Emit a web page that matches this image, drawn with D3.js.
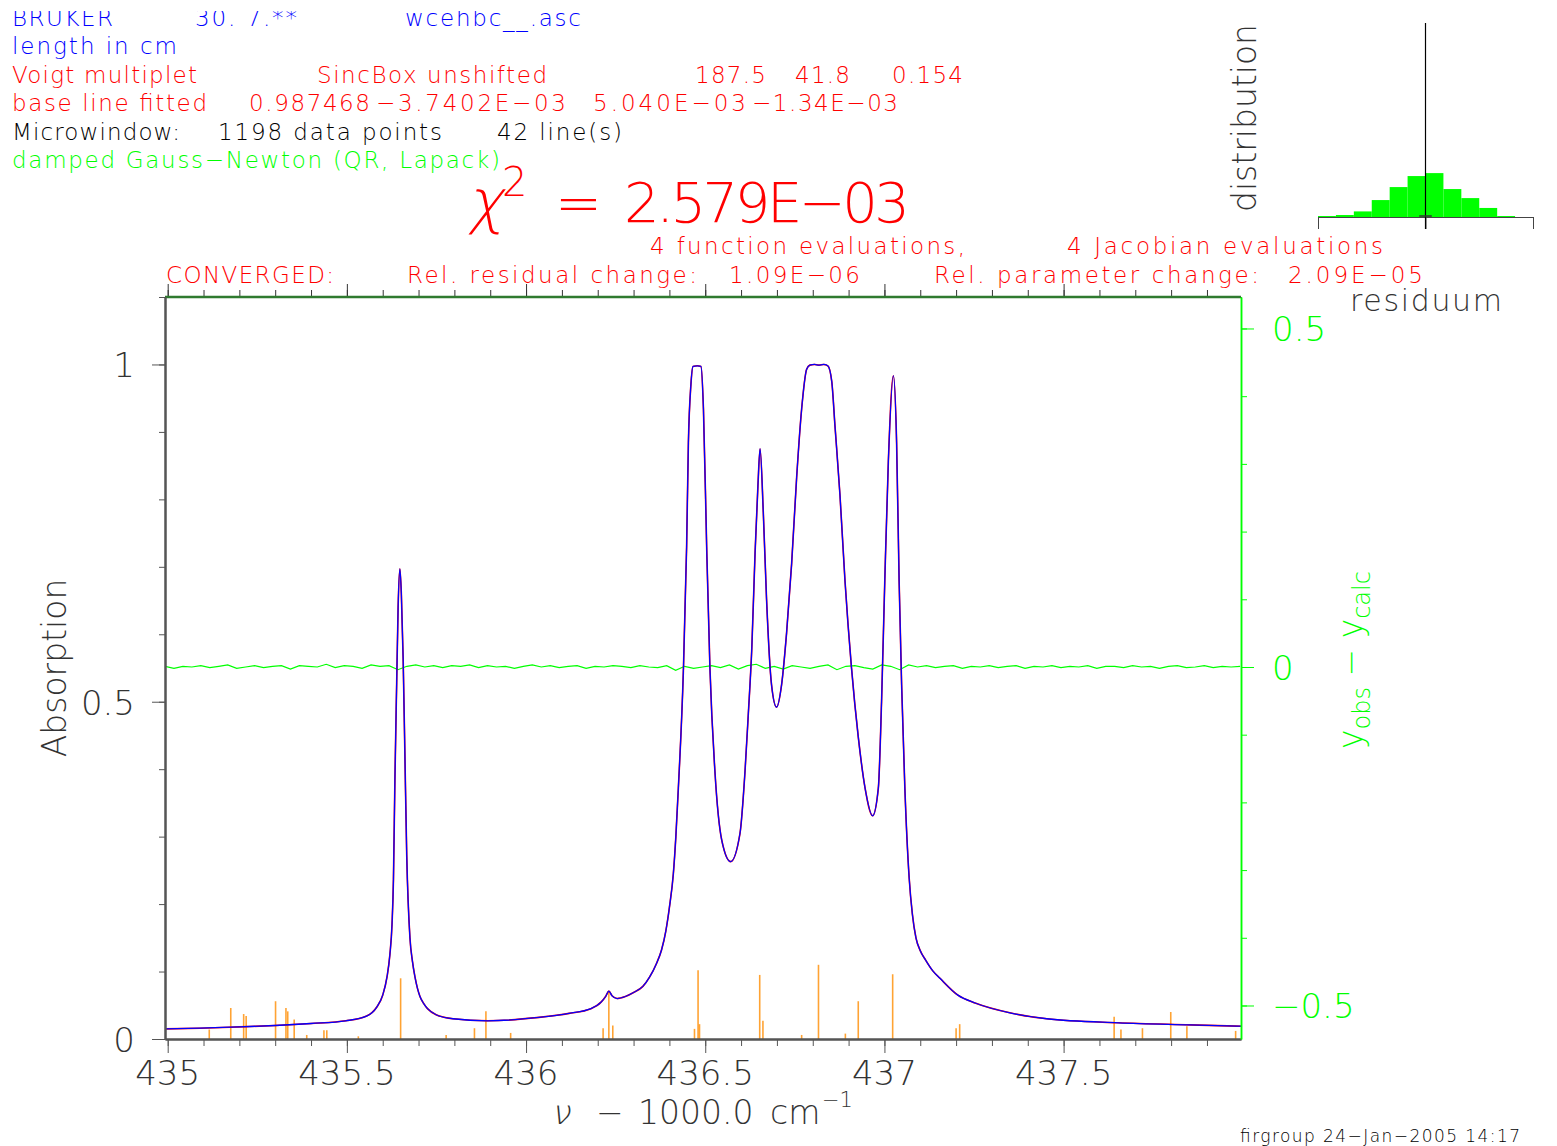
<!DOCTYPE html>
<html>
<head>
<meta charset="utf-8">
<script src="https://cdn.jsdelivr.net/npm/d3@7"></script>
<style>
  body { margin: 0; background: #fff; }
  svg { display: block; }
  text { font-family: 'DejaVu Sans', sans-serif; font-weight: 200; }
</style>
</head>
<body>
<svg id="chart" width="1557" height="1146"></svg>
<script>
/* global d3 */

// calculated spectrum (wavenumber - 1000 cm-1, absorption)
var nuCalc = [434.9925, 435.09, 435.2, 435.3, 435.4, 435.497, 435.555, 435.583, 435.600, 435.612,
  435.620, 435.626, 435.630, 435.634, 435.639, 435.643, 435.648, 435.652, 435.657, 435.662,
  435.667, 435.676, 435.683, 435.690, 435.697, 435.704, 435.715, 435.725, 435.749, 435.796,
  435.893, 436.036, 436.12, 436.181, 436.21, 436.222, 436.231, 436.24, 436.254, 436.277,
  436.30, 436.326, 436.345, 436.364, 436.378, 436.390, 436.400, 436.411, 436.418, 436.425,
  436.439, 436.448, 436.453, 436.460, 436.466, 436.478, 436.488, 436.495, 436.504, 436.513,
  436.527, 436.546, 436.571, 436.597, 436.611, 436.620, 436.630, 436.639, 436.647, 436.653,
  436.662, 436.671, 436.685, 436.699, 436.713, 436.727, 436.741, 436.755, 436.769, 436.783,
  436.792, 436.805, 436.817, 436.830, 436.842, 436.853, 436.862, 436.876, 436.890, 436.908,
  436.927, 436.946, 436.967, 436.983, 436.992, 437.001, 437.011, 437.025, 437.034, 437.041,
  437.048, 437.057, 437.069, 437.078, 437.088, 437.100, 437.115, 437.135, 437.155, 437.205,
  437.255, 437.353, 437.453, 437.653, 437.852, 437.995]
var absCalc = [0.015, 0.016, 0.018, 0.020, 0.023, 0.027, 0.034, 0.047, 0.065, 0.092,
  0.125, 0.170, 0.237, 0.383, 0.528, 0.640, 0.697, 0.660, 0.565, 0.419,
  0.273, 0.150, 0.115, 0.092, 0.075, 0.063, 0.052, 0.045, 0.036, 0.030,
  0.027, 0.032, 0.038, 0.045, 0.055, 0.063, 0.071, 0.064, 0.060, 0.063,
  0.069, 0.078, 0.092, 0.112, 0.132, 0.160, 0.195, 0.245, 0.300, 0.372,
  0.546, 0.729, 0.884, 0.970, 0.997, 0.998, 0.997, 0.934, 0.729, 0.551,
  0.397, 0.295, 0.263, 0.305, 0.397, 0.480, 0.580, 0.720, 0.820, 0.875,
  0.781, 0.653, 0.525, 0.492, 0.525, 0.602, 0.704, 0.832, 0.934, 0.993,
  0.999, 1.000, 0.999, 1.000, 0.998, 0.975, 0.909, 0.806, 0.679, 0.551,
  0.448, 0.372, 0.331, 0.372, 0.500, 0.679, 0.857, 0.983, 0.884, 0.679,
  0.525, 0.372, 0.239, 0.185, 0.150, 0.131, 0.117, 0.101, 0.090, 0.065,
  0.053, 0.0385, 0.030, 0.024, 0.021, 0.019]

// residuals y_obs - y_calc on a regular grid
var residStart = 434.9925
var residStep = 0.025
var residuals = [
  0.001, -0.002, 0.001, 0.000, 0.002, -0.001, 0.001, 0.003, -0.002, 0.000,
  0.002, -0.001, 0.001, 0.002, -0.003, 0.002, 0.001, 0.000, 0.004, -0.001,
  0.002, 0.001, -0.002, 0.003, 0.001, 0.002, -0.004, 0.001, 0.003, 0.000,
  0.002, -0.001, 0.002, 0.001, 0.003, -0.001, 0.002, 0.000, 0.001, -0.002,
  0.001, 0.003, 0.000, 0.002, -0.001, 0.001, 0.002, -0.002, 0.001, 0.000,
  0.002, 0.001, -0.001, 0.002, 0.000, -0.001, 0.002, -0.005, 0.001, -0.002,
  0.000, 0.002, -0.001, 0.003, -0.003, 0.002, 0.004, -0.002, 0.001, -0.003,
  0.002, 0.000, -0.002, 0.001, 0.003, -0.004, 0.001, 0.002, -0.001, -0.003,
  0.003, 0.001, -0.004, 0.003, 0.000, 0.002, -0.001, 0.001, 0.002, -0.002,
  0.001, 0.000, 0.002, -0.001, 0.001, 0.002, -0.002, 0.001, 0.000, 0.002,
  -0.001, 0.001, 0.000, 0.002, -0.002, 0.001, 0.001, -0.001, 0.002, 0.000,
  0.001, -0.002, 0.001, 0.002, -0.001, 0.000, 0.002, -0.001, 0.001, 0.000,
  0.001]

// line positions and scaled strengths (orange sticks)
var linePos = [435.116, 435.176, 435.212, 435.219, 435.301, 435.330, 435.335, 435.353, 435.388, 435.436,
  435.444, 435.532, 435.650, 435.777, 435.856, 435.888, 435.957, 436.215, 436.231, 436.242,
  436.470, 436.480, 436.484, 436.652, 436.661, 436.769, 436.816, 436.891, 436.927, 437.023,
  437.200, 437.210, 437.641, 437.660, 437.720, 437.799, 437.844, 437.980]
var lineStrength = [0.014, 0.046, 0.037, 0.034, 0.056, 0.046, 0.041, 0.029, 0.006, 0.013,
  0.013, 0.004, 0.090, 0.006, 0.016, 0.041, 0.009, 0.016, 0.071, 0.020,
  0.015, 0.102, 0.022, 0.095, 0.027, 0.006, 0.110, 0.008, 0.056, 0.096,
  0.016, 0.022, 0.033, 0.014, 0.016, 0.040, 0.019, 0.012]

// residual distribution (histogram)
var histEdges = [-0.012, -0.010, -0.008, -0.006, -0.004, -0.002, 0, 0.002, 0.004, 0.006, 0.008, 0.010, 0.012]
var histCounts = [6, 12, 34, 103, 182, 249, 267, 170, 115, 55, 6, 0]

var xTicksMajor = [435, 435.5, 436, 436.5, 437, 437.5]
var yTicksMajor = [0, 0.5, 1]
var resTicksMajor = [-0.5, 0, 0.5]

/*
    --------------------------------------
    Setup
*/
var svg = d3.select('#chart')
var plot = {left: 165, right: 1241, top: 297, bottom: 1039}
var axisGray = '#555'

var x = d3.scaleLinear().domain([434.9925, 437.995]).range([plot.left, plot.right])
var y = d3.scaleLinear().domain([0, 1.1]).range([plot.bottom, plot.top])
var yRes = d3.scaleLinear().domain([-0.5495, 0.5465]).range([plot.bottom, plot.top])

function label (g, o) {
  var t = g.append('text')
    .attr('x', o.x)
    .attr('y', o.y)
    .attr('fill', o.color || '#000')
    .style('font-size', o.size + 'px')
    .text(o.text)
  if (o.len) t.attr('textLength', o.len).attr('lengthAdjust', 'spacing')
  if (o.anchor) t.attr('text-anchor', o.anchor)
  return t
}

/*
    --------------------------------------
    Header texts
*/
// the first header row is cut at the top in the original plot
svg.append('clipPath').attr('id', 'clipHead')
  .append('rect').attr('x', 0).attr('y', 11).attr('width', 1557).attr('height', 1135)

var head = svg.append('g').classed('header', true)
var headTop = head.append('g').attr('clip-path', 'url(#clipHead)')
var headLines = [
  {x: 12, y: 54, text: 'length in cm', len: 165, color: '#0000ff'},
  {x: 12, y: 83, text: 'Voigt multiplet', len: 185, color: '#ff0000'},
  {x: 317, y: 83, text: 'SincBox unshifted', len: 230, color: '#ff0000'},
  {x: 695, y: 83, text: '187.5', len: 71, color: '#ff0000'},
  {x: 795, y: 83, text: '41.8', len: 55, color: '#ff0000'},
  {x: 892, y: 83, text: '0.154', len: 71, color: '#ff0000'},
  {x: 12, y: 111, text: 'base line fitted', len: 195, color: '#ff0000'},
  {x: 249, y: 111, text: '0.987468', len: 121, color: '#ff0000'},
  {x: 376, y: 111, text: '\u22123.7402E\u221203', len: 190, color: '#ff0000'},
  {x: 593, y: 111, text: '5.040E\u221203', len: 153, color: '#ff0000'},
  {x: 752, y: 111, text: '\u22121.34E\u221203', len: 146, color: '#ff0000'},
  {x: 12, y: 140, text: 'Microwindow:', len: 168, color: '#000'},
  {x: 218, y: 140, text: '1198 data points', len: 224, color: '#000'},
  {x: 497, y: 140, text: '42 line(s)', len: 125, color: '#000'},
  {x: 12, y: 168, text: 'damped Gauss\u2212Newton (QR, Lapack)', len: 488, color: '#00ff00'},
  {x: 650, y: 254, text: '4 function evaluations,', len: 315, color: '#ff0000'},
  {x: 1067, y: 254, text: '4 Jacobian evaluations', len: 316, color: '#ff0000'},
  {x: 166, y: 283, text: 'CONVERGED:', len: 168, color: '#ff0000'},
  {x: 407, y: 283, text: 'Rel. residual change:', len: 290, color: '#ff0000'},
  {x: 729, y: 283, text: '1.09E\u221206', len: 131, color: '#ff0000'},
  {x: 934, y: 283, text: 'Rel. parameter change:', len: 325, color: '#ff0000'},
  {x: 1288, y: 283, text: '2.09E\u221205', len: 135, color: '#ff0000'}
]
headLines.forEach(d => label(head, Object.assign({size: 23}, d)))
label(headTop, {x: 12, y: 26, text: 'BRUKER', len: 101, size: 23, color: '#0000ff'})
label(headTop, {x: 195, y: 26, text: '30. 7.**', len: 102, size: 23, color: '#0000ff'})
label(headTop, {x: 405, y: 26, text: 'wcehbc__.asc', len: 176, size: 23, color: '#0000ff'})

// chi^2 title
label(head, {x: 0, y: 0, text: '\u03c7', size: 60, color: '#ff0000'})
  .attr('transform', 'translate(468,222) skewX(-12)')
label(head, {x: 502, y: 196, text: '2', size: 40, color: '#ff0000'})
label(head, {x: 555, y: 222, text: '=', size: 56, color: '#ff0000', len: 38})
label(head, {x: 624, y: 222, text: '2.579E\u221203', size: 56, color: '#ff0000', len: 286})

/*
    --------------------------------------
    Main plot: sticks, curves, residuals
*/
svg.append('clipPath').attr('id', 'clip')
  .append('rect')
  .attr('x', plot.left).attr('y', plot.top)
  .attr('width', plot.right - plot.left).attr('height', plot.bottom - plot.top)

var chart = svg.append('g').attr('clip-path', 'url(#clip)')

chart.selectAll('.stick')
  .data(d3.zip(linePos, lineStrength))
  .enter().append('line')
  .classed('stick', true)
  .attr('x1', d => x(d[0])).attr('x2', d => x(d[0]))
  .attr('y1', y(0)).attr('y2', d => y(d[1]))
  .attr('stroke', '#ff8c00')
  .attr('stroke-opacity', 0.8)
  .attr('stroke-width', 1.6)

var residData = residuals.map((r, i) => [residStart + i * residStep, r])
chart.append('path')
  .datum(residData)
  .attr('fill', 'none')
  .attr('stroke', '#00ff00')
  .attr('stroke-width', 1.2)
  .attr('d', d3.line().x(d => x(d[0])).y(d => yRes(d[1])))

var specLine = d3.line()
  .x(d => x(d[0]))
  .y(d => y(d[1]))
  .curve(d3.curveMonotoneX)
var spec = d3.zip(nuCalc, absCalc)

chart.append('path').datum(spec)
  .attr('fill', 'none').attr('stroke', '#ff0000').attr('stroke-width', 1.6)
  .attr('d', specLine)
chart.append('path').datum(spec)
  .attr('fill', 'none').attr('stroke', '#0000ff').attr('stroke-width', 1.3)
  .attr('d', specLine)

/*
    --------------------------------------
    Axes
*/
var xMinor = x.ticks(30)

function styleAxis (g, color, width) {
  g.select('.domain').attr('stroke', color).attr('stroke-width', width)
  g.selectAll('.tick line').attr('stroke', color)
  g.selectAll('.tick text').remove()
}

// bottom
var gb = svg.append('g').attr('transform', `translate(0,${plot.bottom})`)
gb.append('g').call(d3.axisBottom(x).tickValues(xMinor).tickSize(7).tickSizeOuter(0))
  .call(g => styleAxis(g, axisGray, 2))
gb.append('g').call(d3.axisBottom(x).tickValues(xTicksMajor).tickSize(14).tickSizeOuter(0))
  .call(g => styleAxis(g, axisGray, 2))
xTicksMajor.forEach(v => label(gb, {x: x(v), y: 46, text: d3.format('')(v), size: 34, color: '#333', anchor: 'middle'}))

// top
var gt = svg.append('g').attr('transform', `translate(0,${plot.top})`)
gt.append('g').call(d3.axisTop(x).tickValues(xMinor).tickSize(7).tickSizeOuter(0))
  .call(g => styleAxis(g, '#333', 1))
gt.append('g').call(d3.axisTop(x).tickValues(xTicksMajor).tickSize(13).tickSizeOuter(0))
  .call(g => styleAxis(g, '#333', 1))
gt.append('line').attr('x1', plot.left).attr('x2', plot.right)
  .attr('stroke', '#2f7a2f').attr('stroke-width', 2.5)

// left
var gl = svg.append('g').attr('transform', `translate(${plot.left},0)`)
gl.append('g').call(d3.axisLeft(y).ticks(11).tickSize(6).tickSizeOuter(0))
  .call(g => styleAxis(g, axisGray, 2))
gl.append('g').call(d3.axisLeft(y).tickValues(yTicksMajor).tickSize(13).tickSizeOuter(0))
  .call(g => styleAxis(g, axisGray, 2))
yTicksMajor.forEach(v => label(gl, {x: -30, y: y(v) + 13, text: d3.format('')(v), size: 34, color: '#333', anchor: 'end'}))

// right (residuals)
var gr = svg.append('g').attr('transform', `translate(${plot.right},0)`)
gr.append('g').call(d3.axisRight(yRes).ticks(10).tickSize(6).tickSizeOuter(0))
  .call(g => styleAxis(g, '#00ff00', 1.5))
gr.append('g').call(d3.axisRight(yRes).tickValues(resTicksMajor).tickSize(13).tickSizeOuter(0))
  .call(g => styleAxis(g, '#00ff00', 1.5))
resTicksMajor.forEach(v => label(gr, {x: 31, y: yRes(v) + 13, text: d3.format('')(v).replace('-', '\u2212'), size: 34, color: '#00ff00'}))

// axis titles
label(svg, {x: 0, y: 0, text: 'Absorption', size: 33, color: '#333', anchor: 'middle'})
  .attr('transform', 'translate(66,668) rotate(-90)')

label(svg, {x: 0, y: 0, text: '\u03bd', size: 34, color: '#333'})
  .attr('transform', 'translate(551,1124) skewX(-12)')
var xt = svg.append('text').attr('y', 1124).attr('fill', '#333').style('font-size', '33px')
xt.append('tspan').attr('x', 596).text('\u2212')
xt.append('tspan').attr('x', 638).text('1000.0')
xt.append('tspan').attr('x', 770).text('cm')
svg.append('text').attr('x', 822).attr('y', 1107).attr('fill', '#333')
  .style('font-size', '21px').text('\u22121')

var rt = svg.append('text').attr('fill', '#00ff00').style('font-size', '33px')
  .attr('text-anchor', 'middle')
  .attr('transform', 'translate(1362,660) rotate(-90)')
rt.append('tspan').text('y')
rt.append('tspan').attr('dy', 8).style('font-size', '24px').text('obs')
rt.append('tspan').attr('dy', -8).text('  \u2212  y')
rt.append('tspan').attr('dy', 8).style('font-size', '24px').text('calc')

/*
    --------------------------------------
    Residual distribution inset
*/
var hx = d3.scaleLinear().domain([-0.012, 0.012]).range([1318, 1533])
var hy = d3.scaleLinear().domain([0, 1180]).range([217, 23])
var inset = svg.append('g').classed('inset', true)

inset.selectAll('.bar')
  .data(histCounts)
  .enter().append('rect')
  .classed('bar', true)
  .attr('x', (d, i) => hx(histEdges[i]))
  .attr('width', (d, i) => hx(histEdges[i + 1]) - hx(histEdges[i]))
  .attr('y', d => hy(d))
  .attr('height', d => hy(0) - hy(d))
  .attr('fill', '#00ff00')

inset.append('g').attr('transform', `translate(0,${hy(0)})`)
  .call(d3.axisBottom(hx).tickValues([-0.012, 0, 0.012]).tickSize(12).tickSizeOuter(0))
  .call(g => styleAxis(g, '#444', 1.2))
inset.append('line')
  .attr('x1', hx(0)).attr('x2', hx(0))
  .attr('y1', hy(1180)).attr('y2', hy(0) + 12)
  .attr('stroke', '#000').attr('stroke-width', 1.2)
inset.append('line')
  .attr('x1', hx(-0.0007)).attr('x2', hx(0.0007))
  .attr('y1', hy(0) - 1).attr('y2', hy(0) - 1)
  .attr('stroke', '#333').attr('stroke-width', 1.5)

label(inset, {x: 0, y: 0, text: 'distribution', size: 33, color: '#333', anchor: 'middle'})
  .attr('transform', 'translate(1256,118) rotate(-90)')
label(inset, {x: 1426, y: 311, text: 'residuum', size: 30, color: '#333', anchor: 'middle', len: 152})

// footer
label(svg, {x: 1240, y: 1142, text: 'firgroup 24\u2212Jan\u22122005 14:17', size: 17, color: '#000', len: 280})
</script>
</body>
</html>
